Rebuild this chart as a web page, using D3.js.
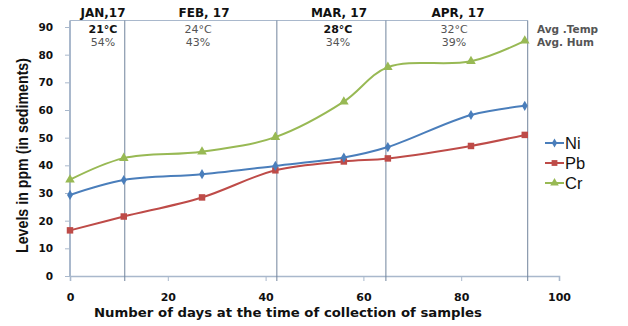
<!DOCTYPE html>
<html><head><meta charset="utf-8">
<script src="https://cdn.jsdelivr.net/npm/d3@7"></script>
<style>body{margin:0;background:#fff}svg{display:block}</style>
</head><body>
<svg id="c" width="628" height="326"></svg>
<script>
const days = [0, 11, 27, 42, 56, 65, 82, 93];
const ni = [29.3, 34.7, 36.8, 39.8, 42.8, 46.6, 58.2, 61.5];
const pb = [16.5, 21.5, 28.4, 38.2, 41.4, 42.5, 47.0, 51.0];
const cr = [34.8, 42.6, 44.9, 50.2, 63.0, 75.5, 77.6, 85.0];
const seriesNames = ["Ni", "Pb", "Cr"];
const monthBounds = [0, 11.2, 42.3, 64.6, 93.6];
const months = ["JAN,17", "FEB, 17", "MAR, 17", "APR, 17"];
const temps = ["21°C", "24°C", "28°C", "32°C"];
const hums = ["54%", "43%", "34%", "39%"];
const tempBold = [true, false, true, false];
const xTicks = [0, 20, 40, 60, 80, 100];
const yTicks = [0, 10, 20, 30, 40, 50, 60, 70, 80, 90];

const svg = d3.select("#c");
const x = d3.scaleLinear().domain([0, 100]).range([70, 559]);
const y = d3.scaleLinear().domain([0, 90]).range([276, 27]);
const yTop = 20.5;
const axisCol = "#a9b8cc";
const gridCol = "#71849c";
const font = "DejaVu Sans, Verdana, sans-serif";

// y axis
const ya = svg.append("g").attr("transform", "translate(70,0)")
  .call(d3.axisLeft(y).tickValues(yTicks).tickSize(5).tickPadding(12));
ya.select(".domain").remove();
ya.selectAll("line").attr("stroke", axisCol);
ya.selectAll("text").attr("font-family", font).attr("font-weight", "bold").attr("font-size", 10.5).attr("fill", "#111");
svg.append("line").attr("x1", 70).attr("x2", 70).attr("y1", yTop).attr("y2", 277)
  .attr("stroke", axisCol).attr("stroke-width", 2);

// x axis
const xa = svg.append("g").attr("transform", "translate(0,276)")
  .call(d3.axisBottom(x).tickValues(xTicks).tickSize(5).tickPadding(12));
xa.select(".domain").attr("stroke", axisCol).attr("stroke-width", 1.6);
xa.selectAll("line").attr("stroke", axisCol);
xa.selectAll("text").attr("font-family", font).attr("font-weight", "bold").attr("font-size", 11).attr("fill", "#111");

// month frame
svg.append("line").attr("x1", 70).attr("x2", x(monthBounds[4])).attr("y1", yTop).attr("y2", yTop)
  .attr("stroke", axisCol).attr("stroke-width", 1.2);
svg.selectAll(".mb").data(monthBounds.slice(1)).enter().append("line")
  .attr("x1", d => x(d)).attr("x2", d => x(d)).attr("y1", yTop).attr("y2", 281)
  .attr("stroke", gridCol).attr("stroke-width", 1);

const monthCenters = [103, 204, 339, 458];
const infoCenters = [103, 198, 338, 454];
months.forEach((m, i) => {
  svg.append("text").attr("x", monthCenters[i]).attr("y", 17).attr("text-anchor", "middle")
    .attr("font-family", font).attr("font-weight", "bold").attr("font-size", 12).attr("fill", "#111").text(m);
  svg.append("text").attr("x", infoCenters[i]).attr("y", 33).attr("text-anchor", "middle")
    .attr("font-family", font).attr("font-weight", tempBold[i] ? "bold" : "normal").attr("font-size", 11)
    .attr("fill", tempBold[i] ? "#111" : "#555").text(temps[i]);
  svg.append("text").attr("x", infoCenters[i]).attr("y", 46).attr("text-anchor", "middle")
    .attr("font-family", font).attr("font-size", 11).attr("fill", "#555").text(hums[i]);
});
svg.append("text").attr("x", 537).attr("y", 33).attr("font-family", font).attr("font-weight", "bold").attr("font-size", 10.5).attr("fill", "#555").text("Avg .Temp");
svg.append("text").attr("x", 537).attr("y", 46).attr("font-family", font).attr("font-weight", "bold").attr("font-size", 10.5).attr("fill", "#555").text("Avg. Hum");

// series
const colors = ["#4a7ebb", "#be4b48", "#98b954"];
const data = [ni, pb, cr];
const line = d3.line().x((d, i) => x(days[i])).y(d => y(d)).curve(d3.curveCatmullRom.alpha(0.5));
const symbols = [d3.symbolDiamond, d3.symbolSquare, d3.symbolTriangle];
const symSizes = [30, 42, 40];
[2, 1, 0].forEach(k => {
  svg.append("path").datum(data[k]).attr("d", line).attr("fill", "none")
    .attr("stroke", colors[k]).attr("stroke-width", 2);
  svg.selectAll(".m" + k).data(data[k]).enter().append("path")
    .attr("transform", (d, i) => `translate(${x(days[i])},${y(d)})`)
    .attr("d", d3.symbol().type(symbols[k]).size(symSizes[k])).attr("fill", colors[k]);
});

// legend
seriesNames.forEach((n, k) => {
  const ly = 143 + k * 20;
  svg.append("line").attr("x1", 545).attr("x2", 564).attr("y1", ly).attr("y2", ly)
    .attr("stroke", colors[k]).attr("stroke-width", 2);
  svg.append("path").attr("transform", `translate(554.5,${ly})`)
    .attr("d", d3.symbol().type(symbols[k]).size(symSizes[k] * 0.8)).attr("fill", colors[k]);
  svg.append("text").attr("x", 565).attr("y", ly + 6).attr("font-family", "Liberation Sans, Arial, sans-serif")
    .attr("font-size", 16.5).attr("fill", "#111").text(n);
});

// titles
svg.append("text").attr("x", 288).attr("y", 317).attr("text-anchor", "middle")
  .attr("font-family", font).attr("font-weight", "bold").attr("font-size", 12.5).attr("fill", "#111")
  .attr("textLength", 388).attr("lengthAdjust", "spacingAndGlyphs")
  .text("Number of days at the time of collection of samples");
svg.append("text").attr("transform", "translate(28,155.5) rotate(-90)").attr("text-anchor", "middle")
  .attr("font-family", "Liberation Sans, Arial, sans-serif").attr("font-weight", "bold").attr("font-size", 17).attr("fill", "#111")
  .attr("textLength", 195).attr("lengthAdjust", "spacingAndGlyphs")
  .text("Levels in ppm (in sediments)");
</script>
</body></html>
